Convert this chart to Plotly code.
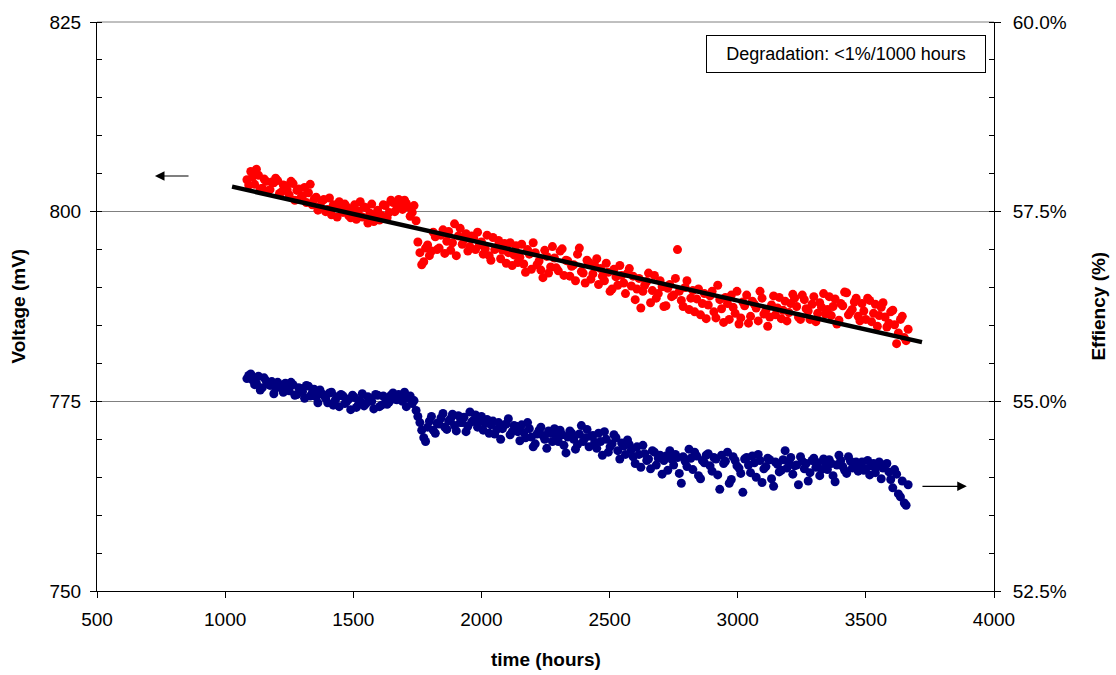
import plotly.graph_objects as go

hours = [
    1085, 1100, 1115, 1130, 1145, 1160, 1175, 1190, 1205, 1220,
    1235, 1250, 1265, 1280, 1295, 1310, 1325, 1340, 1355, 1370,
    1385, 1400, 1415, 1430, 1445, 1460, 1475, 1490, 1505, 1520,
    1535, 1550, 1565, 1580, 1595, 1610, 1625, 1640, 1655, 1670,
    1685, 1700, 1715, 1730, 1745, 1760, 1775, 1790, 1805, 1820,
    1835, 1850, 1865, 1880, 1895, 1910, 1925, 1940, 1955, 1970,
    1985, 2000, 2015, 2030, 2045, 2060, 2075, 2090, 2105, 2120,
    2135, 2150, 2165, 2180, 2195, 2210, 2225, 2240, 2255, 2270,
    2285, 2300, 2315, 2330, 2345, 2360, 2375, 2390, 2405, 2420,
    2435, 2450, 2465, 2480, 2495, 2510, 2525, 2540, 2555, 2570,
    2585, 2600, 2615, 2630, 2645, 2660, 2675, 2690, 2705, 2720,
    2735, 2750, 2765, 2780, 2795, 2810, 2825, 2840, 2855, 2870,
    2885, 2900, 2915, 2930, 2945, 2960, 2975, 2990, 3005, 3020,
    3035, 3050, 3065, 3080, 3095, 3110, 3125, 3140, 3155, 3170,
    3185, 3200, 3215, 3230, 3245, 3260, 3275, 3290, 3305, 3320,
    3335, 3350, 3365, 3380, 3395, 3410, 3425, 3440, 3455, 3470,
    3485, 3500, 3515, 3530, 3545, 3560, 3575, 3590, 3605, 3620,
    3635, 3650, 3665,
]

hours_b = [
    1092, 1107, 1122, 1137, 1152, 1167, 1182, 1197, 1212, 1227,
    1242, 1257, 1272, 1287, 1302, 1317, 1332, 1347, 1362, 1377,
    1392, 1407, 1422, 1437, 1452, 1467, 1482, 1497, 1512, 1527,
    1542, 1557, 1572, 1587, 1602, 1617, 1632, 1647, 1662, 1677,
    1692, 1707, 1722, 1737, 1752, 1767, 1782, 1797, 1812, 1827,
    1842, 1857, 1872, 1887, 1902, 1917, 1932, 1947, 1962, 1977,
    1992, 2007, 2022, 2037, 2052, 2067, 2082, 2097, 2112, 2127,
    2142, 2157, 2172, 2187, 2202, 2217, 2232, 2247, 2262, 2277,
    2292, 2307, 2322, 2337, 2352, 2367, 2382, 2397, 2412, 2427,
    2442, 2457, 2472, 2487, 2502, 2517, 2532, 2547, 2562, 2577,
    2592, 2607, 2622, 2637, 2652, 2667, 2682, 2697, 2712, 2727,
    2742, 2757, 2772, 2787, 2802, 2817, 2832, 2847, 2862, 2877,
    2892, 2907, 2922, 2937, 2952, 2967, 2982, 2997, 3012, 3027,
    3042, 3057, 3072, 3087, 3102, 3117, 3132, 3147, 3162, 3177,
    3192, 3207, 3222, 3237, 3252, 3267, 3282, 3297, 3312, 3327,
    3342, 3357, 3372, 3387, 3402, 3417, 3432, 3447, 3462, 3477,
    3492, 3507, 3522, 3537, 3552, 3567, 3582, 3597, 3612, 3627,
    3642, 3657,
]

voltage_mv = [
    804.2, 805.3, 803.6, 804.8, 803.1, 804.0, 802.9, 803.8, 804.1, 802.6,
    803.4, 802.2, 803.7, 802.8, 801.8, 803.2, 802.5, 800.9, 801.9, 800.7,
    801.6, 800.3, 799.6, 800.8, 801.3, 799.9, 800.6, 799.2, 800.9, 800.1,
    799.3, 800.5, 799.8, 798.7, 800.2, 799.5, 800.8, 799.9, 801.2, 800.4,
    801.0, 801.5, 800.6, 799.9, 798.8, 794.6, 793.4, 795.6, 794.8, 796.7,
    795.2, 797.6, 796.1, 794.9, 798.4, 796.8, 795.7, 797.1, 795.4, 796.5,
    797.3, 796.0, 795.1, 794.2, 796.6, 795.3, 793.8, 795.8, 794.6, 792.9,
    795.5, 794.0, 793.1, 795.0, 792.4, 794.6, 793.5, 791.3, 794.1, 792.7,
    793.9, 792.2, 795.1, 793.6, 791.5, 793.0, 794.4, 792.1, 790.6, 793.3,
    791.8, 793.8, 792.5, 790.9, 792.0, 789.8, 791.4, 792.9, 790.6, 791.9,
    790.2, 788.4, 791.2, 789.5, 790.8, 788.0, 791.6, 789.2, 790.1, 787.6,
    790.4, 789.0, 795.0, 788.3, 790.0, 787.1, 789.6, 788.5, 786.4, 789.2,
    787.7, 789.5, 786.0, 788.4, 785.4, 787.9, 789.0, 786.6, 785.2, 788.1,
    789.0, 786.2, 787.8, 785.6, 788.6, 787.0, 786.1, 788.9, 787.3, 785.9,
    788.2, 786.7, 789.1, 787.5, 785.8, 788.4, 786.9, 787.8, 785.5, 788.0,
    789.2, 787.1, 786.3, 788.5, 785.7, 787.6, 789.3, 786.8, 788.1, 786.2,
    787.9, 785.8, 788.3, 786.6, 784.9, 787.4, 786.1, 785.3, 787.0, 782.6,
    785.8, 783.4, 784.5,
]

voltage_mv_b = [
    803.5, 804.6, 805.6, 803.0, 804.3, 802.7, 803.9, 804.4, 802.4, 803.5,
    802.9, 804.0, 801.5, 803.0, 802.1, 801.2, 803.6, 801.6, 800.2, 801.4,
    800.0, 801.8, 800.9, 799.3, 800.4, 801.0, 799.5, 800.3, 799.0, 801.3,
    800.6, 798.5, 801.0, 799.6, 798.9, 800.9, 799.2, 801.5, 800.0, 801.6,
    800.3, 801.1, 799.4, 800.8, 796.0, 793.0, 795.2, 794.2, 797.3, 795.0,
    796.9, 794.5, 797.4, 795.9, 794.2, 797.8, 796.3, 794.8, 796.8, 795.0,
    795.6, 794.4, 796.9, 793.6, 795.0, 796.2, 794.9, 793.2, 795.9, 794.3,
    793.3, 795.7, 792.0, 794.4, 795.9, 793.0, 792.3, 794.9, 791.9, 795.4,
    792.6, 794.8, 791.6, 793.5, 792.8, 790.9, 795.2, 791.9, 793.6, 791.1,
    792.9, 790.4, 791.5, 793.2, 789.5, 792.4, 790.3, 791.6, 789.2, 792.5,
    791.5, 789.8, 787.3, 790.3, 791.9, 789.6, 788.6, 790.9, 787.5, 789.9,
    788.8, 791.2, 789.5, 787.5, 790.9, 788.6, 786.8, 789.8, 787.9, 785.9,
    788.9, 786.8, 790.3, 787.2, 788.7, 785.8, 787.4, 789.5, 786.0, 787.6,
    785.3, 788.2, 787.3, 789.5, 786.5, 784.9, 787.7, 786.4, 788.7, 787.0,
    785.6, 787.9, 788.6, 786.1, 789.0, 787.2, 785.8, 788.8, 786.6, 787.4,
    786.5, 788.8, 787.5, 785.2, 787.9, 789.4, 786.4, 787.1, 788.6, 785.6,
    786.9, 788.6, 785.5, 787.8, 786.3, 788.0, 784.8, 786.8, 785.1, 784.0,
    786.2, 783.0,
]

efficiency_pct = [
    55.30, 55.36, 55.22, 55.33, 55.18, 55.27, 55.21, 55.10, 55.25, 55.19,
    55.24, 55.14, 55.22, 55.09, 55.17, 55.04, 55.20, 55.11, 55.06, 55.15,
    55.08, 54.98, 55.12, 55.02, 54.93, 55.07, 55.00, 54.89, 55.05, 54.96,
    55.10, 54.97, 55.03, 54.90, 55.08, 54.95, 55.04, 54.99, 55.11, 55.02,
    55.06, 55.12, 55.04, 54.97, 54.88, 54.72, 54.52, 54.66, 54.80, 54.58,
    54.70, 54.84, 54.63, 54.77, 54.68, 54.81, 54.72, 54.60, 54.86, 54.75,
    54.66, 54.80, 54.71, 54.58, 54.74, 54.63, 54.50, 54.69, 54.77, 54.60,
    54.67, 54.48, 54.59, 54.72, 54.53, 54.44, 54.62, 54.55, 54.38, 54.58,
    54.64, 54.47, 54.56, 54.32, 54.61, 54.50, 54.43, 54.68, 54.52, 54.40,
    54.55, 54.38, 54.47, 54.60, 54.33, 54.44, 54.52, 54.24, 54.41, 54.49,
    54.36, 54.18, 54.30, 54.42, 54.22, 54.11, 54.33, 54.25, 54.04, 54.28,
    54.35, 54.16, 54.26, 53.92, 54.21, 54.37, 54.10, 54.28, 53.98, 54.19,
    54.31, 54.08, 54.24, 53.84, 54.18, 54.33, 53.97, 54.22, 54.12, 53.80,
    54.26, 54.06, 54.19, 54.30, 53.93, 54.14, 54.23, 53.88, 54.17, 54.09,
    54.35, 54.20, 54.04, 54.16, 54.27, 54.11, 53.95, 54.22, 54.13, 54.02,
    54.24, 54.10, 54.18, 53.94, 54.29, 54.14, 54.05, 54.21, 54.17, 54.08,
    54.20, 54.11, 54.03, 54.18, 54.14, 53.98, 54.16, 54.07, 53.86, 54.04,
    53.74, 53.66, 53.90,
]

efficiency_pct_b = [
    55.34, 55.28, 55.24, 55.15, 55.31, 55.23, 55.26, 55.17, 55.22, 55.12,
    55.19, 55.25, 55.08, 55.18, 55.13, 55.21, 55.07, 55.16, 54.98, 55.10,
    55.04, 55.11, 54.95, 55.06, 55.09, 54.97, 55.03, 55.08, 54.92, 55.01,
    54.94, 55.06, 55.00, 55.09, 54.93, 55.07, 54.96, 55.08, 55.03, 55.09,
    55.00, 54.93, 55.07, 55.01, 54.80, 54.62, 54.47, 54.74, 54.62, 54.71,
    54.78, 54.66, 54.74, 54.83, 54.61, 54.72, 54.79, 54.67, 54.73, 54.82,
    54.73, 54.62, 54.76, 54.69, 54.57, 54.72, 54.64, 54.70, 54.56, 54.68,
    54.60, 54.69, 54.52, 54.64, 54.40, 54.57, 54.66, 54.50, 54.61, 54.47,
    54.55, 54.62, 54.42, 54.53, 54.58, 54.37, 54.57, 54.47, 54.63, 54.54,
    54.46, 54.58, 54.29, 54.50, 54.40, 54.56, 54.35, 54.45, 54.30, 54.43,
    54.27, 54.40, 54.13, 54.31, 54.24, 54.35, 54.16, 54.29, 54.22, 54.09,
    54.24, 54.30, 54.05, 54.27, 54.14, 54.25, 54.33, 54.02, 54.22, 54.29,
    54.15, 54.26, 54.03, 54.29, 54.21, 53.92, 54.27, 54.15, 54.05, 54.24,
    54.16, 54.28, 54.00, 54.22, 54.11, 54.25, 53.98, 54.20, 54.07, 54.23,
    54.12, 54.26, 54.15, 53.90, 54.21, 54.18, 54.06, 54.25, 54.19, 54.10,
    54.19, 54.23, 54.02, 54.16, 54.22, 54.09, 54.27, 54.12, 54.20, 54.14,
    54.09, 54.22, 54.15, 54.06, 54.20, 54.12, 54.18, 53.97, 54.10, 53.78,
    53.95, 53.63,
]

trend_hours = [1027, 3719]
trend_mv = [803.3, 782.8]

x_ticks = [500, 1000, 1500, 2000, 2500, 3000, 3500, 4000]
v_ticks = [750, 775, 800, 825]
e_ticks = [52.5, 55.0, 57.5, 60.0]

FONT = "Liberation Sans, Arial, sans-serif"

fig = go.Figure()
fig.add_trace(go.Scatter(
    x=hours + hours_b, y=voltage_mv + voltage_mv_b, mode="markers",
    marker=dict(color="#FF0000", size=9, line=dict(width=0)),
    name="Voltage", yaxis="y",
))
fig.add_trace(go.Scatter(
    x=hours + hours_b, y=efficiency_pct + efficiency_pct_b, mode="markers",
    marker=dict(color="#000080", size=9, line=dict(width=0)),
    name="Efficiency", yaxis="y2",
))
fig.add_trace(go.Scatter(
    x=trend_hours, y=trend_mv, mode="lines",
    line=dict(color="black", width=4.5),
    name="Trend", yaxis="y",
))

fig.update_layout(
    width=1116, height=675,
    margin=dict(l=97, r=122, t=18, b=84),
    paper_bgcolor="white", plot_bgcolor="white",
    showlegend=False,
    font=dict(family=FONT, size=19, color="black"),
    xaxis=dict(
        range=[500, 4000], tickvals=x_ticks, ticks="outside", ticklen=6,
        tickcolor="black", showline=True, linecolor="black", linewidth=1,
        showgrid=False, zeroline=False, tickfont=dict(size=19),
        ticklabelstandoff=5,
    ),
    yaxis=dict(
        range=[750, 825], tickvals=v_ticks, ticks="outside", ticklen=6,
        tickcolor="black", showline=True, linecolor="black", linewidth=1,
        showgrid=True, gridcolor="#808080", gridwidth=1, zeroline=False,
        tickfont=dict(size=19), ticklabelstandoff=5,
        minor=dict(ticks="inside", ticklen=5, dtick=5, tickcolor="black", showgrid=False),
    ),
    yaxis2=dict(
        range=[52.5, 60], tickvals=e_ticks, ticktext=[f"{v:.1f}%" for v in e_ticks],
        overlaying="y", side="right", ticks="outside", ticklen=6,
        tickcolor="black", showline=True, linecolor="black", linewidth=1,
        showgrid=False, zeroline=False, tickfont=dict(size=19),
        ticklabelstandoff=8,
        minor=dict(ticks="inside", ticklen=5, dtick=0.5, tickcolor="black", showgrid=False),
    ),
    shapes=[dict(type="line", xref="paper", yref="paper", x0=0, x1=1, y0=1, y1=1,
                 line=dict(color="#808080", width=1), layer="below")],
)

annotations = [
    dict(text="<b>Voltage (mV)</b>", xref="paper", yref="paper",
         x=-0.088, y=0.5, textangle=-90, showarrow=False,
         font=dict(size=19), xanchor="center", yanchor="middle"),
    dict(text="<b>Effiency (%)</b>", xref="paper", yref="paper",
         x=1.116, y=0.5, textangle=-90, showarrow=False,
         font=dict(size=19), xanchor="center", yanchor="middle"),
    dict(text="<b>time (hours)</b>", xref="paper", yref="paper",
         x=0.5, y=-0.12, showarrow=False,
         font=dict(size=19), xanchor="center", yanchor="middle"),
    dict(text="Degradation: <1%/1000 hours", xref="paper", yref="paper",
         x=0.835, y=0.944, showarrow=False, xanchor="center", yanchor="middle",
         font=dict(size=18), bordercolor="black", borderwidth=1, borderpad=8,
         bgcolor="white", width=262),
    dict(text="", x=726, y=804.7, xref="x", yref="y",
         ax=863, ay=804.7, axref="x", ayref="y",
         showarrow=True, arrowhead=2, arrowsize=1.6, arrowwidth=1.2, arrowcolor="black"),
    dict(text="", x=3894, y=763.8, xref="x", yref="y",
         ax=3715, ay=763.8, axref="x", ayref="y",
         showarrow=True, arrowhead=2, arrowsize=1.6, arrowwidth=1.2, arrowcolor="black"),
]
fig.update_layout(annotations=annotations)

fig.write_html("out.html", config={"displayModeBar": False},
               post_script="document.body.style.margin='0';document.body.style.padding='0';")
